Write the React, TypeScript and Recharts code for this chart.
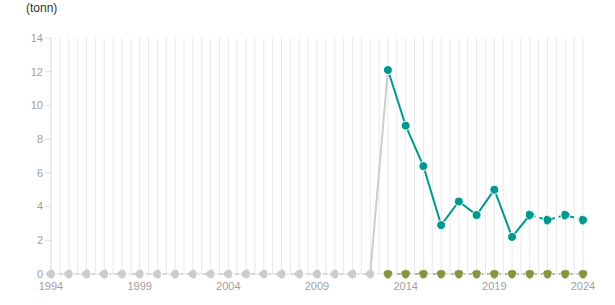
import React from 'react';
import { LineChart, Line, XAxis, YAxis, CartesianGrid } from 'recharts';

// years on the x axis
const years: number[] = [];
for (let y = 1994; y <= 2024; y++) years.push(y);

const xTicks = [1994, 1999, 2004, 2009, 2014, 2019, 2024];
const yTicks = [0, 2, 4, 6, 8, 10, 12, 14];

// values (tonn)
const grayYears = [1994, 1995, 1996, 1997, 1998, 1999, 2000, 2001, 2002, 2003, 2004, 2005, 2006, 2007, 2008, 2009, 2010, 2011, 2012];
const grayValues = [0, 0, 0, 0, 0, 0, 0, 0, 0, 0, 0, 0, 0, 0, 0, 0, 0, 0, 0];
const tealYears = [2013, 2014, 2015, 2016, 2017, 2018, 2019, 2020, 2021, 2022, 2023, 2024];
const tealValues = [12.1, 8.8, 6.4, 2.9, 4.3, 3.5, 5.0, 2.2, 3.5, 3.2, 3.5, 3.2];
const tealDashFrom = 2021;
const oliveValues = [0, 0, 0, 0, 0, 0, 0, 0, 0, 0, 0, 0];

const TEAL = '#009990';
const OLIVE = '#86953f';
const GRAY = '#cccccc';

const data = years.map((year) => {
  const gi = grayYears.indexOf(year);
  const ti = tealYears.indexOf(year);
  const lastGray = grayYears[grayYears.length - 1];
  return {
    year,
    grayZero: gi >= 0 ? grayValues[gi] : null,
    grayRise:
      year === lastGray ? grayValues[gi] : ti === 0 ? tealValues[0] : null,
    teal: ti >= 0 && year <= tealDashFrom ? tealValues[ti] : null,
    tealDash: ti >= 0 && year >= tealDashFrom ? tealValues[ti] : null,
    olive: ti >= 0 ? oliveValues[ti] : null,
  };
});

// vertical grid: one line per year and one half way between
const gridValues: number[] = [];
years.forEach((y, i) => {
  gridValues.push(y);
  if (i < years.length - 1) gridValues.push(y + 0.5);
});

const dot = (color: string) => ({ r: 4.5, fill: color, stroke: '#fff', strokeWidth: 1 });
const tick = { fill: '#a0a0a0', fontSize: 11, fontFamily: 'Liberation Sans, Arial, sans-serif' };

export default function App() {
  return (
    <div style={{ position: 'absolute', left: 0, top: 0, width: 615, height: 305, background: '#fff' }}>
      <div
        style={{
          position: 'absolute',
          left: 26,
          top: 1,
          fontSize: 12,
          color: '#333',
          fontFamily: 'Liberation Sans, Arial, sans-serif',
        }}
      >
        (tonn)
      </div>
      <LineChart width={615} height={305} data={data} margin={{ top: 38, right: 32, left: 0, bottom: 0 }}>
        <CartesianGrid horizontal={false} stroke="#e8e8e8" verticalValues={gridValues} />
        <XAxis
          dataKey="year"
          type="number"
          domain={[1994, 2024]}
          ticks={xTicks}
          tickLine={false}
          axisLine={{ stroke: '#e0e0e0' }}
          tick={tick}
          tickMargin={2}
          height={31}
          interval={0}
        />
        <YAxis
          domain={[0, 14]}
          ticks={yTicks}
          width={51}
          tick={tick}
          tickLine={{ stroke: '#dddddd' }}
          axisLine={{ stroke: '#e0e0e0' }}
          tickSize={6}
          tickMargin={2}
        />
        <Line
          dataKey="grayRise"
          stroke={GRAY}
          strokeWidth={2}
          dot={false}
          activeDot={false}
          isAnimationActive={false}
        />
        <Line
          dataKey="grayZero"
          stroke={GRAY}
          strokeWidth={2}
          strokeDasharray="4 4"
          dot={dot(GRAY)}
          activeDot={false}
          isAnimationActive={false}
        />
        <Line
          dataKey="olive"
          stroke={OLIVE}
          strokeWidth={2}
          strokeDasharray="5 4"
          dot={dot(OLIVE)}
          activeDot={false}
          isAnimationActive={false}
        />
        <Line
          dataKey="teal"
          stroke={TEAL}
          strokeWidth={2}
          dot={dot(TEAL)}
          activeDot={false}
          isAnimationActive={false}
        />
        <Line
          dataKey="tealDash"
          stroke={TEAL}
          strokeWidth={2}
          strokeDasharray="6 4"
          dot={dot(TEAL)}
          activeDot={false}
          isAnimationActive={false}
        />
      </LineChart>
    </div>
  );
}
